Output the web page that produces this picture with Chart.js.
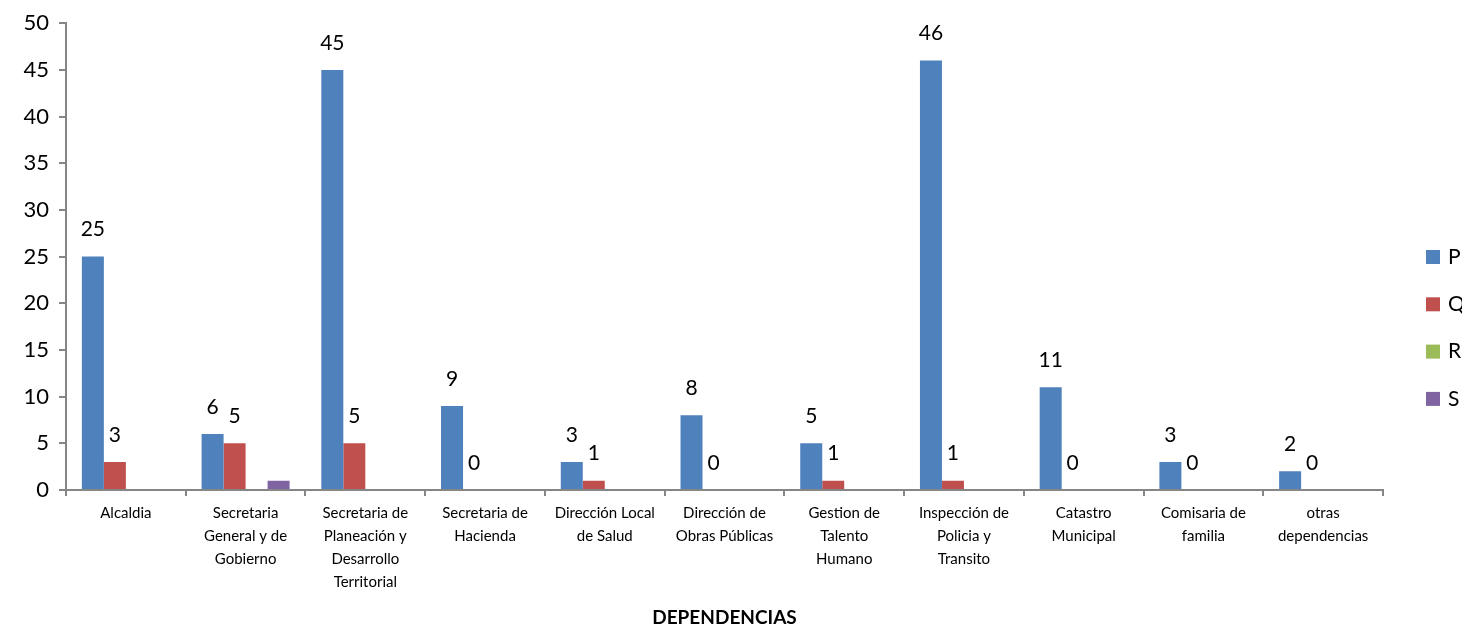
<!DOCTYPE html>
<html>
<head>
<meta charset="utf-8">
<script src="https://cdn.jsdelivr.net/npm/chart.js@4.4.1/dist/chart.umd.min.js"></script>
<style>
  html, body { margin: 0; padding: 0; background: #fff; overflow: hidden; }
  #wrap { position: relative; width: 1462px; height: 629px; }
</style>
</head>
<body>
<div id="wrap"><canvas id="chart"></canvas></div>
<script>
const categories = [
    'Alcaldia',
    ['Secretaria', 'General y de', 'Gobierno'],
    ['Secretaria de', 'Planeación y', 'Desarrollo', 'Territorial'],
    ['Secretaria de', 'Hacienda'],
    ['Dirección Local', 'de Salud'],
    ['Dirección de', 'Obras Públicas'],
    ['Gestion de', 'Talento', 'Humano'],
    ['Inspección de', 'Policia y', 'Transito'],
    ['Catastro', 'Municipal'],
    ['Comisaria de', 'familia'],
    ['otras', 'dependencias']
];
const valuesP = [25, 6, 45, 9, 3, 8, 5, 46, 11, 3, 2];
const valuesQ = [3, 5, 5, 0, 1, 0, 1, 1, 0, 0, 0];
const valuesR = [0, 0, 0, 0, 0, 0, 0, 0, 0, 0, 0];
const valuesS = [0, 1, 0, 0, 0, 0, 0, 0, 0, 0, 0];
const seriesNames = ['P', 'Q', 'R', 'S'];
const seriesColors = ['#4f81bd', '#c0504d', '#9bbb59', '#8064a2'];
const yTicks = [0, 5, 10, 15, 20, 25, 30, 35, 40, 45, 50];
const labelledSeries = [0, 1];

const FONT = "Lato, 'Open Sans', sans-serif";
const axisGray = '#868686';

// data labels above P and Q bars
const valueLabels = {
    id: 'valueLabels',
    afterDatasetsDraw(chart) {
        const ctx = chart.ctx;
        ctx.save();
        ctx.font = '21px ' + FONT;
        ctx.fillStyle = '#000';
        ctx.textAlign = 'center';
        ctx.textBaseline = 'middle';
        labelledSeries.forEach(di => {
            const meta = chart.getDatasetMeta(di);
            meta.data.forEach((bar, i) => {
                const v = chart.data.datasets[di].data[i];
                ctx.fillText(String(v), bar.x, bar.y - 27);
            });
        });
        ctx.restore();
    }
};

// legend on the right, partly cut by the edge like the reference
const sideLegend = {
    id: 'sideLegend',
    afterDraw(chart) {
        const ctx = chart.ctx;
        ctx.save();
        ctx.font = '21px ' + FONT;
        ctx.textBaseline = 'middle';
        seriesNames.forEach((name, i) => {
            const y = 257 + i * 47.3;
            ctx.fillStyle = seriesColors[i];
            ctx.fillRect(1426, y - 7, 14, 14);
            ctx.fillStyle = '#000';
            ctx.fillText(name, 1448, y);
        });
        ctx.restore();
    }
};

const ctx = document.getElementById('chart').getContext('2d');
const datasets = [valuesP, valuesQ, valuesR, valuesS].map((vals, i) => ({
    label: seriesNames[i],
    data: vals,
    backgroundColor: seriesColors[i],
    borderWidth: 0,
    categoryPercentage: 0.735,
    barPercentage: 1.0
}));

new Chart(ctx, {
    type: 'bar',
    data: { labels: categories, datasets: datasets },
    options: {
        responsive: true,
        maintainAspectRatio: false,
        animation: false,
        layout: { padding: { left: 0, right: 79, top: 15, bottom: 0 } },
        plugins: {
            legend: { display: false },
            tooltip: { enabled: false }
        },
        scales: {
            x: {
                grid: {
                    offset: true,
                    drawOnChartArea: false,
                    drawTicks: true,
                    tickLength: 6,
                    color: axisGray,
                    lineWidth: 2
                },
                border: { color: axisGray, width: 2 },
                ticks: {
                    color: '#000',
                    font: { family: FONT, size: 15, lineHeight: 1.53 },
                    maxRotation: 0,
                    autoSkip: false,
                    padding: 6
                },
                title: {
                    display: true,
                    text: 'DEPENDENCIAS',
                    color: '#000',
                    font: { family: FONT, size: 19, weight: 'bold' },
                    padding: { top: 10, bottom: 0 }
                },
                afterFit(scale) { scale.height = 139; }
            },
            y: {
                min: 0,
                max: 50,
                afterBuildTicks(scale) { scale.ticks = yTicks.map(v => ({ value: v })); },
                grid: {
                    drawOnChartArea: false,
                    drawTicks: true,
                    tickLength: 7,
                    color: axisGray,
                    lineWidth: 2
                },
                border: { color: axisGray, width: 2 },
                ticks: {
                    color: '#000',
                    font: { family: FONT, size: 22 },
                    padding: 10
                },
                afterFit(scale) { scale.width = 66; }
            }
        }
    },
    plugins: [valueLabels, sideLegend]
});
</script>
</body>
</html>
